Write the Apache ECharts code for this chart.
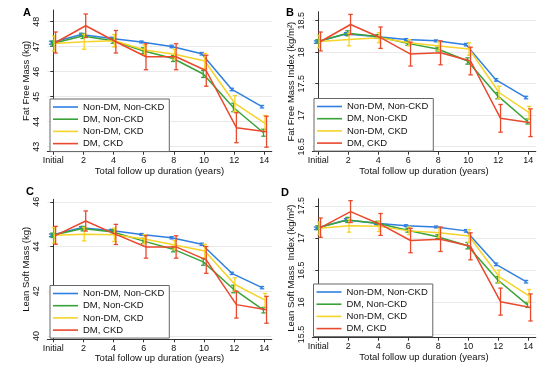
<!DOCTYPE html>
<html><head><meta charset="utf-8">
<script src="https://cdn.jsdelivr.net/npm/echarts@6/dist/echarts.min.js"></script>
<style>html,body{margin:0;padding:0;background:#fff}#c{width:560px;height:372px}</style>
</head><body><div id="c"></div>
<script>
// ---------- data ----------
const years = [0, 2, 4, 6, 8, 10, 12, 14];
const xTickLabels = ['Initial', '2', '4', '6', '8', '10', '12', '14'];
const groupNames = ['Non-DM, Non-CKD', 'DM, Non-CKD', 'Non-DM, CKD', 'DM, CKD'];

// Panel A: Fat Free Mass (kg)
const ffmNonDMNonCKD = [47.16, 47.49, 47.33, 47.19, 47.01, 46.72, 45.29, 44.60];
const ffmDMNonCKD    = [47.13, 47.43, 47.24, 46.84, 46.53, 45.91, 44.57, 43.56];
const ffmNonDMCKD    = [47.13, 47.20, 47.24, 46.87, 46.70, 46.43, 44.73, 43.93];
const ffmDMCKD       = [47.17, 47.84, 47.20, 46.60, 46.60, 46.04, 43.76, 43.60];
const ffmErrNonDMNonCKD = [0.06, 0.05, 0.05, 0.04, 0.05, 0.05, 0.05, 0.05];
const ffmErrDMNonCKD    = [0.10, 0.10, 0.10, 0.12, 0.12, 0.14, 0.17, 0.14];
const ffmErrNonDMCKD    = [0.30, 0.30, 0.25, 0.20, 0.20, 0.30, 0.32, 0.32];
const ffmErrDMCKD       = [0.42, 0.47, 0.45, 0.52, 0.52, 0.62, 0.60, 0.62];
const ffmTicks = [43, 44, 45, 46, 47, 48];

// Panel B: Fat Free Mass Index (kg/m2)
const ffmiNonDMNonCKD = [18.16, 18.29, 18.25, 18.20, 18.18, 18.12, 17.56, 17.28];
const ffmiDMNonCKD    = [18.17, 18.30, 18.25, 18.14, 18.05, 17.86, 17.31, 16.90];
const ffmiNonDMCKD    = [18.17, 18.20, 18.23, 18.15, 18.10, 18.05, 17.36, 17.04];
const ffmiDMCKD       = [18.17, 18.44, 18.23, 17.97, 17.99, 17.86, 16.95, 16.88];
const ffmiErrNonDMNonCKD = [0.02, 0.02, 0.02, 0.015, 0.015, 0.02, 0.02, 0.02];
const ffmiErrDMNonCKD    = [0.03, 0.04, 0.03, 0.03, 0.03, 0.05, 0.05, 0.04];
const ffmiErrNonDMCKD    = [0.10, 0.10, 0.08, 0.05, 0.07, 0.10, 0.10, 0.10];
const ffmiErrDMCKD       = [0.15, 0.16, 0.17, 0.19, 0.19, 0.22, 0.22, 0.22];
const ffmiTicks = [16.5, 17, 17.5, 18, 18.5];

// Panel C: Lean Soft Mass (kg)
const lsmNonDMNonCKD = [44.50, 44.84, 44.72, 44.54, 44.39, 44.10, 42.80, 42.16];
const lsmDMNonCKD    = [44.50, 44.80, 44.65, 44.25, 43.88, 43.31, 42.10, 41.15];
const lsmNonDMCKD    = [44.50, 44.55, 44.52, 44.33, 44.07, 43.80, 42.30, 41.60];
const lsmDMCKD       = [44.50, 45.14, 44.54, 43.98, 43.98, 43.40, 41.40, 41.17];
const lsmErrNonDMNonCKD = [0.06, 0.05, 0.05, 0.04, 0.05, 0.05, 0.05, 0.05];
const lsmErrDMNonCKD    = [0.10, 0.10, 0.10, 0.12, 0.12, 0.15, 0.17, 0.12];
const lsmErrNonDMCKD    = [0.35, 0.30, 0.30, 0.20, 0.20, 0.30, 0.30, 0.30];
const lsmErrDMCKD       = [0.40, 0.45, 0.45, 0.50, 0.50, 0.60, 0.60, 0.60];
const lsmTicks = [40, 42, 44, 46];

// Panel D: Lean Soft Mass Index (kg/m2)
const lsmiNonDMNonCKD = [17.15, 17.28, 17.23, 17.19, 17.17, 17.11, 16.59, 16.32];
const lsmiDMNonCKD    = [17.16, 17.28, 17.23, 17.12, 17.02, 16.88, 16.35, 15.96];
const lsmiNonDMCKD    = [17.15, 17.19, 17.18, 17.11, 17.08, 17.03, 16.40, 16.10];
const lsmiDMCKD       = [17.16, 17.41, 17.21, 16.96, 16.98, 16.87, 16.01, 15.92];
const lsmiErrNonDMNonCKD = [0.02, 0.02, 0.02, 0.015, 0.015, 0.02, 0.02, 0.02];
const lsmiErrDMNonCKD    = [0.03, 0.04, 0.03, 0.03, 0.03, 0.05, 0.05, 0.04];
const lsmiErrNonDMCKD    = [0.10, 0.10, 0.08, 0.06, 0.07, 0.10, 0.10, 0.10];
const lsmiErrDMCKD       = [0.15, 0.17, 0.17, 0.19, 0.19, 0.21, 0.21, 0.21];
const lsmiTicks = [15.5, 16, 16.5, 17, 17.5];

// ---------- styling / layout ----------
const colors = ['#2f7fe0', '#39a33a', '#f5d328', '#e9492c'];
const dodge = [-0.15, -0.05, 0.05, 0.15];
const FONT = 'Liberation Sans, Arial, sans-serif';

const panels = [
  { letter: 'A', yName: 'Fat Free Mass (kg)', means: [ffmNonDMNonCKD, ffmDMNonCKD, ffmNonDMCKD, ffmDMCKD],
    errs: [ffmErrNonDMNonCKD, ffmErrDMNonCKD, ffmErrNonDMCKD, ffmErrDMCKD], ticks: ffmTicks,
    yMin: 42.8, yMax: 48.47, grid: { left: 47.3, top: 10, width: 224.5, height: 141.7 },
    letterPos: [27, 13], legend: { left: 50, top: 99 } },
  { letter: 'B', yName: 'Fat Free Mass Index (kg/m²)', means: [ffmiNonDMNonCKD, ffmiDMNonCKD, ffmiNonDMCKD, ffmiDMCKD],
    errs: [ffmiErrNonDMNonCKD, ffmiErrDMNonCKD, ffmiErrNonDMCKD, ffmiErrDMCKD], ticks: ffmiTicks,
    yMin: 16.42, yMax: 18.643, grid: { left: 312.3, top: 11.7, width: 223.5, height: 140 },
    letterPos: [290, 13], legend: { left: 314, top: 98.5 } },
  { letter: 'C', yName: 'Lean Soft Mass (kg)', means: [lsmNonDMNonCKD, lsmDMNonCKD, lsmNonDMCKD, lsmDMCKD],
    errs: [lsmErrNonDMNonCKD, lsmErrDMNonCKD, lsmErrNonDMCKD, lsmErrDMCKD], ticks: lsmTicks,
    yMin: 39.85, yMax: 46.11, grid: { left: 47.3, top: 199.3, width: 224.5, height: 140 },
    letterPos: [30, 192], legend: { left: 50, top: 285.5 } },
  { letter: 'D', yName: 'Lean Soft Mass  Index (kg/m²)', means: [lsmiNonDMNonCKD, lsmiDMNonCKD, lsmiNonDMCKD, lsmiDMCKD],
    errs: [lsmiErrNonDMNonCKD, lsmiErrDMNonCKD, lsmiErrNonDMCKD, lsmiErrDMCKD], ticks: lsmiTicks,
    yMin: 15.45, yMax: 17.61, grid: { left: 312.3, top: 198.7, width: 223.5, height: 139 },
    letterPos: [285, 193], legend: { left: 313.5, top: 284 } }
];

function errRender(params, api) {
  const x = api.value(0), lo = api.value(1), hi = api.value(2);
  const p1 = api.coord([x, hi]), p2 = api.coord([x, lo]);
  const w = 2.2;
  const c = api.visual('color');
  const st = () => ({ stroke: c, lineWidth: 1.3, fill: null });
  return { type: 'group', children: [
    { type: 'line', shape: { x1: p1[0], y1: p1[1], x2: p2[0], y2: p2[1] }, style: st() },
    { type: 'line', shape: { x1: p1[0] - w, y1: p1[1], x2: p1[0] + w, y2: p1[1] }, style: st() },
    { type: 'line', shape: { x1: p2[0] - w, y1: p2[1], x2: p2[0] + w, y2: p2[1] }, style: st() }
  ]};
}

const option = { animation: false, backgroundColor: '#fff', textStyle: { fontFamily: FONT },
  grid: [], xAxis: [], yAxis: [], series: [], legend: [], graphic: [] };

const legendIcon = 'path://M0,3.2h25v1.6h-25z';

panels.forEach((p, pi) => {
  option.grid.push(Object.assign({ containLabel: false }, p.grid));
  option.xAxis.push({
    type: 'value', gridIndex: pi, min: -0.4, max: 14.5,
    name: 'Total follow up duration (years)', nameLocation: 'middle', nameGap: 14,
    nameTextStyle: { fontSize: 9.5, color: '#111', fontFamily: FONT },
    axisLine: { lineStyle: { color: '#333', width: 1 } },
    axisTick: { show: true, length: 3, customValues: years, lineStyle: { color: '#333' } },
    axisLabel: { customValues: years, margin: 4.5, fontSize: 9, color: '#111', fontFamily: FONT,
      formatter: v => xTickLabels[years.indexOf(v)] },
    splitLine: { show: false }
  });
  option.yAxis.push({
    type: 'value', gridIndex: pi, min: p.yMin, max: p.yMax,
    name: p.yName, nameLocation: 'middle', nameGap: 16,
    nameTextStyle: { fontSize: 9.5, color: '#111', fontFamily: FONT },
    axisLine: { show: true, lineStyle: { color: '#333', width: 1 } },
    axisTick: { show: true, length: 3, customValues: p.ticks, lineStyle: { color: '#333' } },
    axisLabel: { customValues: p.ticks, rotate: 90, margin: 6, fontSize: 9, color: '#111', fontFamily: FONT,
      formatter: v => String(v) },
    splitLine: { show: true, lineStyle: { color: '#e9e9e9', width: 1 } }
  });
  p.means.forEach((vals, si) => {
    const errData = vals.map((v, i) => [years[i] + dodge[si], v - p.errs[si][i], v + p.errs[si][i]]);
    option.series.push({
      type: 'custom', name: groupNames[si], xAxisIndex: pi, yAxisIndex: pi,
      renderItem: errRender, data: errData, itemStyle: { color: colors[si] }, z: 2 + si * 2,
      encode: { x: 0, y: [1, 2] }
    });
    option.series.push({
      type: 'line', name: groupNames[si], xAxisIndex: pi, yAxisIndex: pi,
      data: vals.map((v, i) => [years[i] + dodge[si], v]),
      symbol: 'none', lineStyle: { color: colors[si], width: 1.5 }, itemStyle: { color: colors[si] },
      z: 3 + si * 2
    });
  });
  option.legend.push({
    left: p.legend.left, top: p.legend.top, orient: 'vertical',
    data: groupNames.map((n, si) => ({ name: n, icon: legendIcon, itemStyle: { color: colors[si] } })),
    itemWidth: 25, itemHeight: 8, itemGap: 2.2,
    padding: [3, 5, 3, 3], borderColor: '#666', borderWidth: 1, backgroundColor: '#fff',
    textStyle: { fontSize: 9.5, color: '#111', fontFamily: FONT }, selectedMode: false
  });
  option.graphic.push({
    type: 'text', x: p.letterPos[0], y: p.letterPos[1],
    style: { text: p.letter, font: 'bold 11px ' + FONT, fill: '#000', textAlign: 'center', textVerticalAlign: 'middle' }
  });
});

const chart = echarts.init(document.getElementById('c'), null, { renderer: 'canvas' });
chart.setOption(option);
</script>
</body></html>
